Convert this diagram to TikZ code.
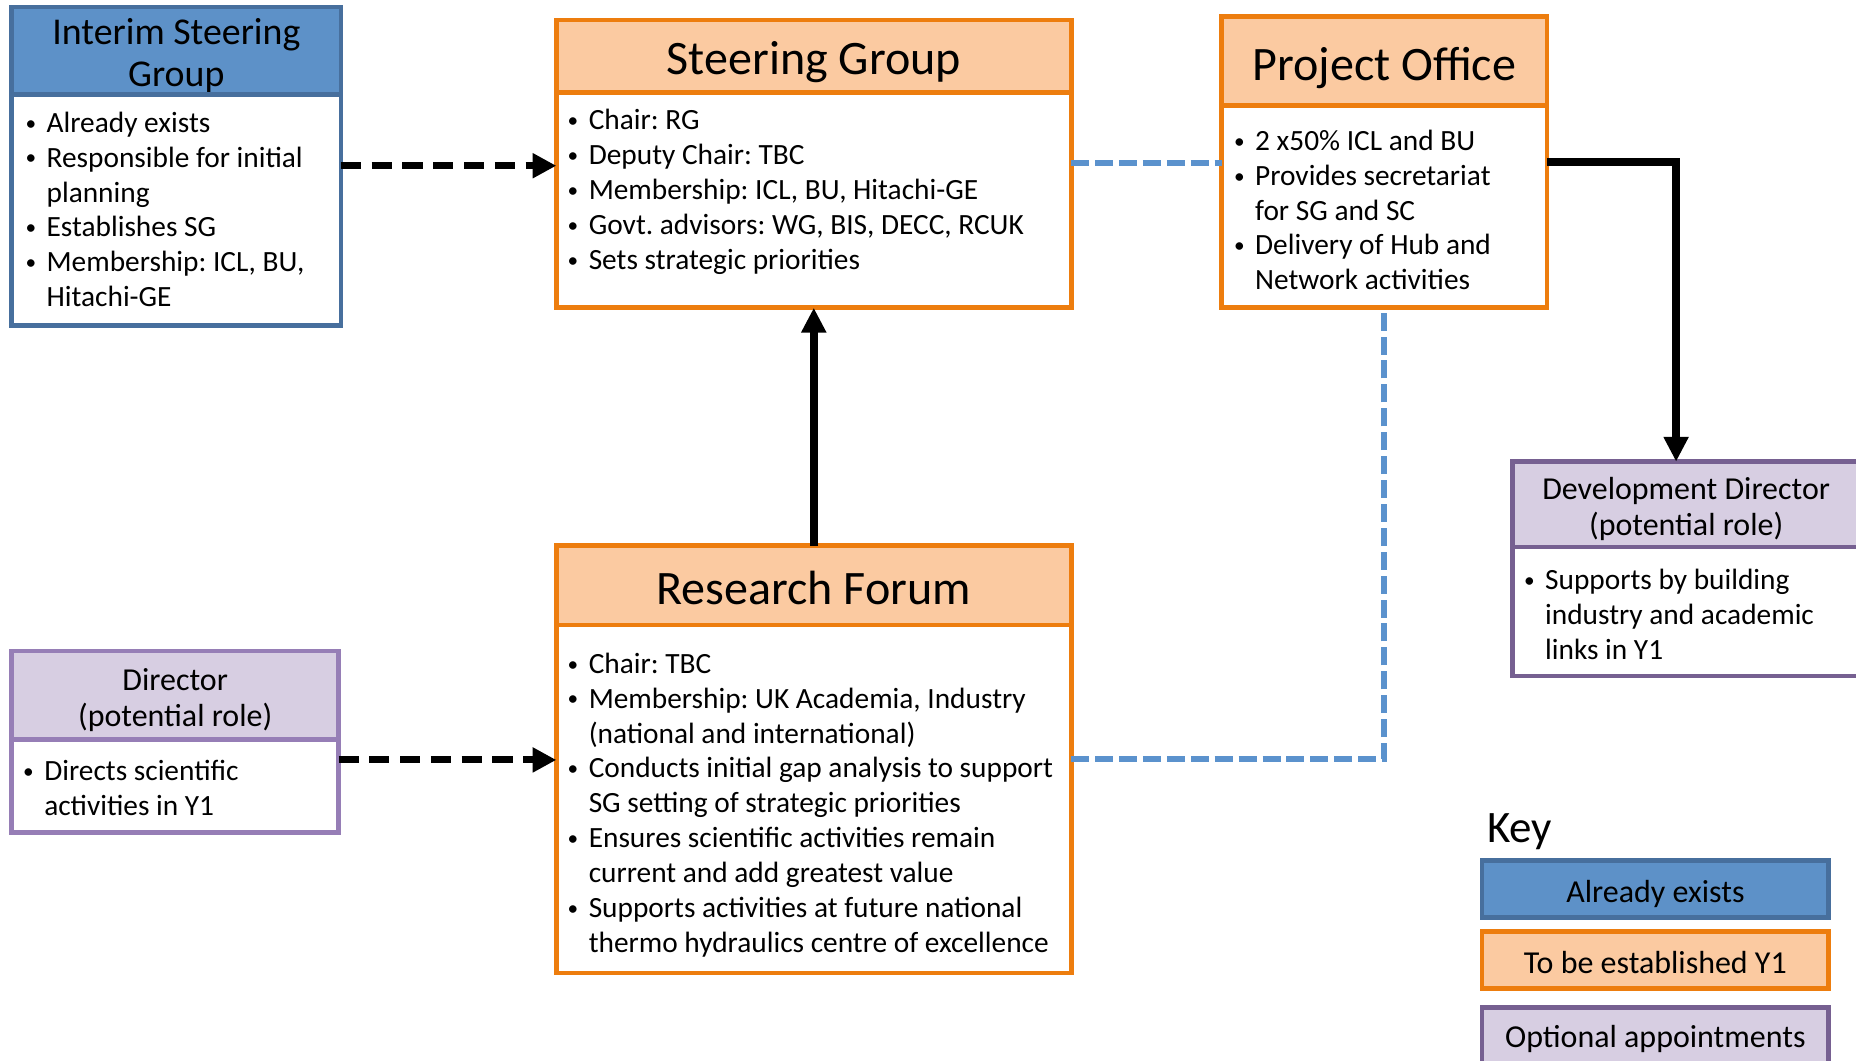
\documentclass[tikz,border=0pt]{standalone}
\usepackage{fontspec}
\setmainfont{Carlito}
\usetikzlibrary{arrows.meta, positioning}
\frenchspacing

\definecolor{blfill}{RGB}{93,145,200}
\definecolor{blline}{RGB}{71,111,157}
\definecolor{orfill}{RGB}{251,202,161}
\definecolor{orline}{RGB}{237,125,14}
\definecolor{pufill}{RGB}{215,206,226}
\definecolor{puline}{RGB}{118,96,145}
\definecolor{pulight}{RGB}{150,126,182}
\definecolor{dashblue}{RGB}{91,146,205}

\newcommand{\blist}[1]{\begin{tabular}{@{}p{9.5pt}@{}l@{}}#1\end{tabular}}
\newcommand{\bitem}{\hspace{0.6pt}\raisebox{0.9pt}{\fontsize{9}{9}\selectfont\textbullet} &}

\begin{document}
\begin{tikzpicture}[x=0.5pt, y=-0.5pt,
    box/.style={draw, line width=2pt, inner sep=0pt, outer sep=0pt, anchor=north west},
    blhead/.style={box, draw=blline, fill=blfill},
    blbody/.style={box, draw=blline, fill=white},
    orhead/.style={box, draw=orline, fill=orfill},
    orbody/.style={box, draw=orline, fill=white},
    puhead/.style={box, draw=#1, fill=pufill},
    pubody/.style={box, draw=#1, fill=white},
    title/.style={inner sep=0pt, align=center, font=\fontsize{20.3}{24}\selectfont},
    subtitle/.style={inner sep=0pt, align=center, font=\fontsize{13.5}{15.5}\selectfont},
    txt/.style={inner sep=0pt, anchor=west, font=\fontsize{12.4}{14.75}\selectfont},
    blackdash/.style={line width=3pt, dash pattern=on 8.5pt off 4.5pt, -{Triangle[length=10pt, width=10pt]}},
    solidarr/.style={line width=3.2pt, -{Triangle[length=10.5pt, width=10pt]}},
    bluedash/.style={line width=2.5pt, draw=dashblue, dash pattern=on 7.6pt off 2.5pt}]

  \useasboundingbox (0,0) rectangle (1568,896);
  \clip (0,0) rectangle (1568,896);
  \fill[white] (0,0) rectangle (1568,896);

  % boxes
  \node[blhead, minimum width=139pt, minimum height=37pt] (isg) at (10,6) {};
  \node[title, font=\fontsize{16}{17.5}\selectfont] (isgtitle) at ([yshift=-2pt]isg.center) {Interim Steering\\Group};
  \node[blbody, minimum width=139pt, minimum height=97.5pt, below=0pt of isg] (isgbody) {};
  \node[txt] (isgtext) at ([xshift=5pt, yshift=-1pt]isgbody.west) {\blist{
    \bitem Already exists\\
    \bitem Responsible for initial\\
    & planning\\
    \bitem Establishes SG\\
    \bitem Membership: ICL, BU,\\
    & Hitachi-GE}};

  \node[orhead, minimum width=217.5pt, minimum height=30.5pt] (sg) at (470,17) {};
  \node[title] (sgtitle) at ([yshift=-2.5pt]sg.center) {Steering Group};
  \node[orbody, minimum width=217.5pt, minimum height=91pt, below=0pt of sg] (sgbody) {};
  \node[txt] (sgtext) at ([xshift=4pt, yshift=3.25pt]sgbody.west) {\blist{
    \bitem Chair: RG\\
    \bitem Deputy Chair: TBC\\
    \bitem Membership: ICL, BU, Hitachi-GE\\
    \bitem Govt. advisors: WG, BIS, DECC, RCUK\\
    \bitem Sets strategic priorities}};

  \node[orhead, minimum width=137.5pt, minimum height=37.5pt] (po) at (1032,14) {};
  \node[title] (potitle) at ([yshift=-3pt]po.center) {Project Office};
  \node[orbody, minimum width=137.5pt, minimum height=85.5pt, below=0pt of po] (pobody) {};
  \node[txt] (potext) at ([xshift=4.5pt, yshift=-2.75pt]pobody.west) {\blist{
    \bitem 2 x50\% ICL and BU\\
    \bitem Provides secretariat\\
    & for SG and SC\\
    \bitem Delivery of Hub and\\
    & Network activities}};

  \node[puhead=puline, minimum width=146.5pt, minimum height=36pt] (dd) at (1278,390) {};
  \node[subtitle] (ddtitle) at ([yshift=-2pt]dd.center) {Development Director\\(potential role)};
  \node[pubody=puline, minimum width=146.5pt, minimum height=54.5pt, below=0pt of dd] (ddbody) {};
  \node[txt] (ddtext) at ([xshift=4pt, yshift=-2.75pt]ddbody.west) {\blist{
    \bitem Supports by building\\
    & industry and academic\\
    & links in Y1}};

  \node[orhead, minimum width=217.5pt, minimum height=33.5pt] (rf) at (470,461) {};
  \node[title] (rftitle) at ([yshift=-1pt]rf.center) {Research Forum};
  \node[orbody, minimum width=217.5pt, minimum height=147pt, below=0pt of rf] (rfbody) {};
  \node[txt] (rftext) at ([xshift=4pt, yshift=-2.9pt]rfbody.west) {\blist{
    \bitem Chair: TBC\\
    \bitem Membership: UK Academia, Industry\\
    & (national and international)\\
    \bitem Conducts initial gap analysis to support\\
    & SG setting of strategic priorities\\
    \bitem Ensures scientific activities remain\\
    & current and add greatest value\\
    \bitem Supports activities at future national\\
    & thermo hydraulics centre of excellence}};

  \node[puhead=pulight, minimum width=138pt, minimum height=37.5pt] (dir) at (10,550) {};
  \node[subtitle] (dirtitle) at ([yshift=-2pt]dir.center) {Director\\(potential role)};
  \node[pubody=pulight, minimum width=138pt, minimum height=39pt, below=0pt of dir] (dirbody) {};
  \node[txt] (dirtext) at ([xshift=4pt, yshift=-2.25pt]dirbody.west) {\blist{
    \bitem Directs scientific\\
    & activities in Y1}};

  % key
  \node[anchor=base west, inner sep=0pt, font=\fontsize{19}{22}\selectfont] (key) at (1256,712) {Key};
  \node[blhead, minimum width=146.5pt, minimum height=24pt] (k1) at (1252,727) {};
  \node[subtitle] (k1text) at ([yshift=-2pt]k1.center) {Already exists};
  \node[orhead, minimum width=146.5pt, minimum height=24pt] (k2) at (1252,787) {};
  \node[subtitle] (k2text) at ([yshift=-1pt]k2.center) {To be established Y1};
  \node[puhead=puline, minimum width=146.5pt, minimum height=24pt] (k3) at (1252,851) {};
  \node[subtitle] (k3text) at ([yshift=-1.5pt]k3.center) {Optional appointments};

  % links
  \draw[blackdash] (isgbody.east |- 0,140) -- (sgbody.west |- 0,140);
  \draw[blackdash] (dirbody.east |- 0,642) -- (rfbody.west |- 0,642);
  \draw[solidarr] (rf.north) -- (sgbody.south);
  \draw[bluedash] (sgbody.east |- 0,138) -- (pobody.west |- 0,138);
  \draw[bluedash] (rfbody.east |- 0,641) -| (pobody.south);
  \draw[solidarr] (pobody.east |- 0,137) -| (dd.north -| 1416,0);
\end{tikzpicture}
\end{document}
